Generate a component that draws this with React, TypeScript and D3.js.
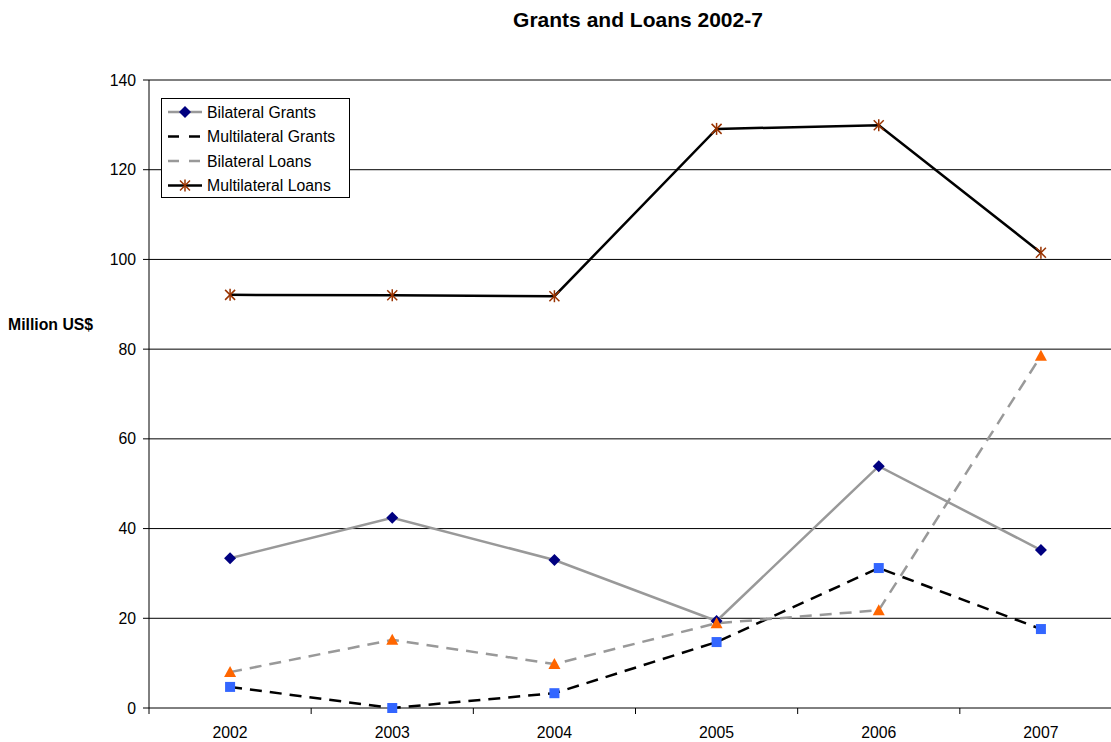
import React from "react";
import * as d3 from "d3";

const years = ["2002", "2003", "2004", "2005", "2006", "2007"];
const bilateralGrants = [33.4, 42.4, 33.0, 19.4, 53.9, 35.2];
const multilateralGrants = [4.7, 0.0, 3.3, 14.7, 31.2, 17.6];
const bilateralLoans = [8.0, 15.2, 9.8, 18.9, 21.8, 78.5];
const multilateralLoans = [92.1, 92.0, 91.8, 129.1, 129.9, 101.5];
const yTicks = [0, 20, 40, 60, 80, 100, 120, 140];

const W = 1111, H = 742;
const left = 149, right = 1122, top = 80, bottom = 708;
const font = "'Liberation Sans', Arial, Helvetica, sans-serif";

export default function App() {
  const x = d3.scaleBand<string>().domain(years).range([left, right]);
  const y = d3.scaleLinear().domain([0, 140]).range([bottom, top]);
  const cx = (i: number) => (x(years[i]) as number) + x.bandwidth() / 2;
  const line = d3.line<number>().x((_, i) => cx(i)).y((d) => y(d));
  const boundaries = d3.range(years.length + 1).map((i) => left + i * x.bandwidth());

  const diamond = (px: number, py: number, k: string) => (
    <path key={k} d={`M${px},${py - 6}L${px + 6},${py}L${px},${py + 6}L${px - 6},${py}Z`} fill="#000080" />
  );
  const square = (px: number, py: number, k: string) => (
    <rect key={k} x={px - 5} y={py - 5} width={10} height={10} fill="#3366FF" />
  );
  const triangle = (px: number, py: number, k: string) => (
    <path key={k} d={`M${px},${py - 6}L${px + 6},${py + 5}L${px - 6},${py + 5}Z`} fill="#FF6600" />
  );
  const star = (px: number, py: number, k: string) => (
    <g key={k} stroke="#993300" strokeWidth={1.5}>
      <line x1={px - 5} y1={py - 5} x2={px + 5} y2={py + 5} />
      <line x1={px - 5} y1={py + 5} x2={px + 5} y2={py - 5} />
      <line x1={px} y1={py - 6} x2={px} y2={py + 6} />
    </g>
  );

  const legendItems = [
    { label: "Bilateral Grants", stroke: "#999999", dash: "", marker: "diamond" },
    { label: "Multilateral Grants", stroke: "#000000", dash: "12,8", marker: "" },
    { label: "Bilateral Loans", stroke: "#999999", dash: "12,8", marker: "" },
    { label: "Multilateral Loans", stroke: "#000000", dash: "", marker: "star" },
  ];

  return (
    <svg width={W} height={H} style={{ position: "absolute", left: 0, top: 0, background: "#fff" }} fontFamily={font}>
      <text x={638} y={27} textAnchor="middle" fontSize={21} fontWeight="bold">Grants and Loans 2002-7</text>
      <text x={8} y={330} fontSize={15.8} fontWeight="bold">Million US$</text>

      {yTicks.map((t) => (
        <g key={t}>
          {t > 0 && <line x1={left} x2={right} y1={y(t)} y2={y(t)} stroke="#000" strokeWidth={1} />}
          <line x1={left - 6} x2={left} y1={y(t)} y2={y(t)} stroke="#000" />
          <text x={136} y={y(t) + 5.5} textAnchor="end" fontSize={15.8}>{t}</text>
        </g>
      ))}
      <line x1={left} x2={left} y1={top} y2={bottom} stroke="#000" />
      <line x1={left} x2={right} y1={bottom} y2={bottom} stroke="#000" />
      {boundaries.map((b, i) => (
        <line key={i} x1={b} x2={b} y1={bottom} y2={bottom + 6} stroke="#000" />
      ))}
      {years.map((yr, i) => (
        <text key={yr} x={cx(i)} y={738} textAnchor="middle" fontSize={15.8}>{yr}</text>
      ))}

      <path d={line(bilateralGrants) || ""} fill="none" stroke="#999999" strokeWidth={2.5} />
      <path d={line(multilateralGrants) || ""} fill="none" stroke="#000" strokeWidth={2.5} strokeDasharray="12,8" />
      <path d={line(bilateralLoans) || ""} fill="none" stroke="#999999" strokeWidth={2.5} strokeDasharray="12,8" />
      <path d={line(multilateralLoans) || ""} fill="none" stroke="#000" strokeWidth={2.5} />

      {bilateralGrants.map((v, i) => diamond(cx(i), y(v), "bg" + i))}
      {multilateralGrants.map((v, i) => square(cx(i), y(v), "mg" + i))}
      {bilateralLoans.map((v, i) => triangle(cx(i), y(v), "bl" + i))}
      {multilateralLoans.map((v, i) => star(cx(i), y(v), "ml" + i))}

      <rect x={161.5} y={98.5} width={188} height={99} fill="#fff" stroke="#000" />
      {legendItems.map((it, i) => {
        const ly = 112 + i * 24.5;
        return (
          <g key={it.label}>
            <line x1={168} x2={202} y1={ly} y2={ly} stroke={it.stroke} strokeWidth={2.5} strokeDasharray={it.dash ? "11,10" : undefined} />
            {it.marker === "diamond" && diamond(185, ly, "ld")}
            {it.marker === "star" && star(185, ly, "ls")}
            <text x={207} y={ly + 5.5} fontSize={15.8}>{it.label}</text>
          </g>
        );
      })}
    </svg>
  );
}
